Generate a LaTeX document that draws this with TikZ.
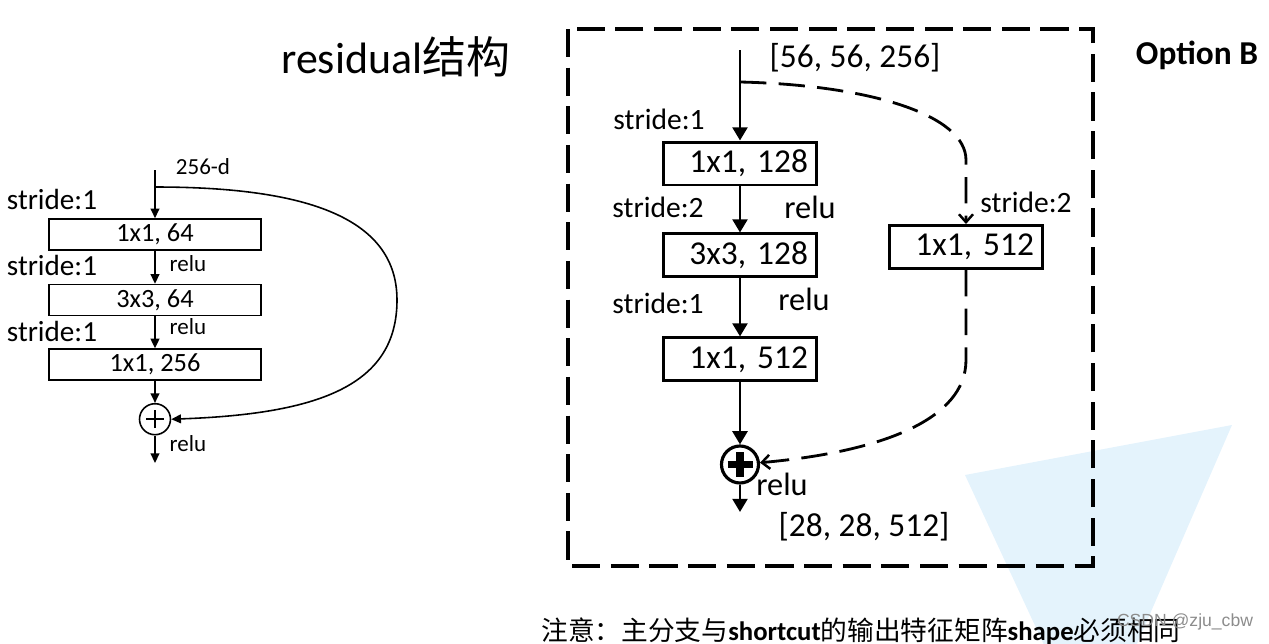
\documentclass[tikz,border=0pt]{standalone}
\usepackage{fontspec}
\setmainfont{Carlito}
\newfontfamily\cjkfont{Noto Sans CJK SC}
\newfontfamily\markfont{Liberation Sans}
\usetikzlibrary{arrows.meta, positioning}
\definecolor{paleblue}{RGB}{228,243,252}

\begin{document}
\begin{tikzpicture}[
  x=0.02cm, y=-0.02cm,
  every node/.style = {inner sep=0pt},
  small box/.style = {
    draw,
    line width=0.9pt,
    minimum width=4.24cm,
    minimum height=0.62cm,
    font=\fontsize{15}{17}\selectfont
  },
  big box/.style = {
    draw,
    line width=1.7pt,
    minimum width=3.08cm,
    minimum height=0.86cm,
    text width=2.72cm,
    inner xsep=0.18cm,
    align=right,
    font=\fontsize{19}{21}\selectfont
  },
  small sum/.style = {
    circle, draw, line width=0.9pt, minimum size=0.62cm,
    path picture={
      \draw[line width=0.9pt] (path picture bounding box.center) +(-0.18cm,0) -- +(0.18cm,0);
      \draw[line width=0.9pt] (path picture bounding box.center) +(0,-0.18cm) -- +(0,0.18cm);
    }
  },
  big sum/.style = {
    circle, draw, line width=1.8pt, minimum size=0.74cm,
    path picture={
      \draw[line width=4pt] (path picture bounding box.center) +(-0.25cm,0) -- +(0.25cm,0);
      \draw[line width=4pt] (path picture bounding box.center) +(0,-0.25cm) -- +(0,0.25cm);
    }
  },
  small label/.style = {font=\fontsize{16.6}{18}\selectfont},
  tiny label/.style = {font=\fontsize{13.1}{15}\selectfont},
  mid label/.style = {font=\fontsize{16.8}{18}\selectfont},
  big label/.style = {font=\fontsize{18.4}{20}\selectfont},
  shape label/.style = {font=\fontsize{19}{21}\selectfont},
  thin arrow/.style = {
    -{Triangle[length=5.5pt,width=5pt]},
    line width=0.9pt
  },
  thick arrow/.style = {
    -{Triangle[length=7.5pt,width=8.5pt]},
    line width=1.5pt
  },
  dash arrow/.style = {
    -{Straight Barb[length=4.5pt,width=8pt,line width=1.4pt]},
    line width=1.6pt,
    dash pattern=on 15pt off 7pt
  },
  frame/.style = {
    line width=2pt,
    dash pattern=on 16pt off 6pt
  }
]

\useasboundingbox (0,0) rectangle (1269,643);
\clip (0,0) rectangle (1269,643);

\fill[paleblue] (965,475) -- (1232,425) -- (1130,660) -- (1051,660) -- cycle;

\node[font=\fontsize{25}{27}\selectfont, anchor=base west] (title) at (281,73) {residual{\cjkfont 结构}};

\node[small box] (lb1) at (155,234.5) {1x1, 64};
\node[small box, below=0.66cm of lb1] (lb2) {3x3, 64};
\node[small box, below=0.64cm of lb2] (lb3) {1x1, 256};
\node[small sum, below=0.44cm of lb3] (lsum) {};

\coordinate (lin) at (155,170);
\coordinate (lfork) at (155,187);
\coordinate (lbend) at (397,300);
\coordinate (lout) at (155,463);

\node[tiny label] (ldim) at (203,167) {256-d};
\node[small label] (ls1) at (52,199) {stride:1};
\node[small label] (ls2) at (52,265) {stride:1};
\node[small label] (ls3) at (52,331) {stride:1};
\node[tiny label] (lr1) at (188,263.5) {relu};
\node[tiny label] (lr2) at (188,326.5) {relu};
\node[tiny label] (lr3) at (188,443.5) {relu};

\draw[thin arrow] (lin) -- (lb1);
\draw[thin arrow] (lb1) -- (lb2);
\draw[thin arrow] (lb2) -- (lb3);
\draw[thin arrow] (lb3) -- (lsum);
\draw[thin arrow] (lsum) -- (lout);
\draw[thin arrow] (lfork) .. controls (300,187) and (397,215) .. (lbend)
  .. controls (397,385) and (320,414) .. (lsum.east);

\draw[frame] (568,29) rectangle (1093,566);

\node[big box] (rb1) at (740,163.5) {1x1, 128};
\node[big box, below=0.92cm of rb1] (rb2) {3x3, 128};
\node[big box, below=1.16cm of rb2] (rb3) {1x1, 512};
\node[big box] (rsc) at (966,247) {1x1, 512};
\node[big sum, below=1.24cm of rb3] (rsum) {};

\coordinate (rin) at (740,50);
\coordinate (rfork) at (740,82);
\coordinate (rdown) at (966,160);
\coordinate (rturn) at (966,360);
\coordinate (rout) at (740,512);

\node[shape label] (rindim) at (855,58) {[56, 56, 256]};
\node[shape label] (routdim) at (864,527) {[28, 28, 512]};
\node[mid label] (rs1) at (659,119) {stride:1};
\node[mid label] (rs2) at (658,207) {stride:2};
\node[mid label] (rs3) at (658,303) {stride:1};
\node[mid label] (rss) at (1026,202) {stride:2};
\node[big label] (rr1) at (810,207) {relu};
\node[big label] (rr2) at (804,299) {relu};
\node[big label] (rr3) at (782,484) {relu};
\node[font=\fontsize{19}{21}\selectfont\bfseries] (optb) at (1197,55) {Option B};

\draw[thick arrow] (rin) -- (rb1);
\draw[thick arrow] (rb1) -- (rb2);
\draw[thick arrow] (rb2) -- (rb3);
\draw[thick arrow] (rb3) -- (rsum);
\draw[thick arrow] (rsum) -- (rout);
\draw[dash arrow] (rfork) .. controls (870,85) and (966,115) .. (rdown) -- (rsc);
\draw[dash arrow] (rsc) -- (rturn) .. controls (966,420) and (880,452) .. (rsum);

\node[anchor=base west, font=\fontsize{15.2}{17}\selectfont] (note) at (541,640)
  {{\cjkfont 注意：主分支与}\textbf{shortcut}{\cjkfont 的输出特征矩阵}\textbf{shape}{\cjkfont 必须相同}};
\node[font=\markfont\fontsize{10}{12}\selectfont, text=black!45] (mark) at (1185,622) {CSDN @zju\_cbw};

\end{tikzpicture}
\end{document}
